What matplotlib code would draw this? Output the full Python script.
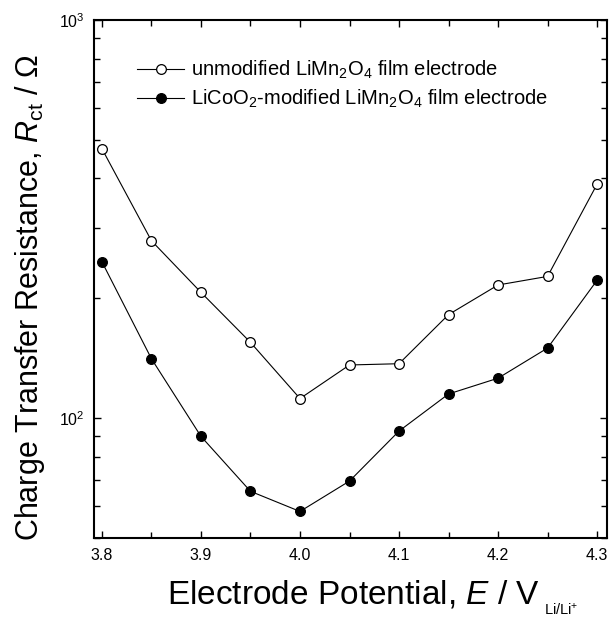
import matplotlib
matplotlib.use("Agg")
import matplotlib.pyplot as plt
from matplotlib.ticker import LogLocator, MultipleLocator, FormatStrFormatter, LogFormatterMathtext, NullFormatter

plt.rcParams['font.family'] = ['Liberation Sans', 'DejaVu Sans']
plt.rcParams['mathtext.fontset'] = 'custom'
plt.rcParams['mathtext.rm'] = 'Liberation Sans'
plt.rcParams['mathtext.it'] = 'Liberation Sans:italic'
plt.rcParams['mathtext.bf'] = 'Liberation Sans:bold'

potential = [3.80, 3.85, 3.90, 3.95, 4.00, 4.05, 4.10, 4.15, 4.20, 4.25, 4.30]
rct_unmodified = [475, 279, 207, 155, 112, 136, 137, 182, 216, 227, 387]
rct_modified = [247, 141, 90, 65.5, 58.3, 69.5, 92.8, 115, 126, 150, 222]
label_unmod = "unmodified LiMn$_2$O$_4$ film electrode"
label_mod = "LiCoO$_2$-modified LiMn$_2$O$_4$ film electrode"

W, H = 611, 621
fig = plt.figure(figsize=(W/100, H/100), dpi=100)
ax = fig.add_axes([94/W, 1-538/H, (607-94)/W, (538-20)/H])

ax.plot(potential, rct_unmodified, '-o', color='black', lw=0.8, ms=7,
        mfc='white', mec='black', mew=0.9, label=label_unmod)
ax.plot(potential, rct_modified, '-o', color='black', lw=0.8, ms=7,
        mfc='black', mec='black', mew=0.9, label=label_mod)

ax.set_yscale('log')
ax.set_ylim(50, 1000)
ax.set_xlim(3.792, 4.31)

ax.xaxis.set_major_locator(MultipleLocator(0.1))
ax.xaxis.set_minor_locator(MultipleLocator(0.05))
ax.xaxis.set_major_formatter(FormatStrFormatter('%.1f'))
ax.yaxis.set_major_locator(LogLocator(base=10))
ax.yaxis.set_minor_locator(LogLocator(base=10, subs=range(2, 10)))
ax.yaxis.set_major_formatter(LogFormatterMathtext())
ax.yaxis.set_minor_formatter(NullFormatter())

ax.tick_params(which='both', direction='in', top=True, right=True, width=1.0, labelsize=11.5)
ax.tick_params(which='major', length=5, pad=7)
ax.tick_params(which='minor', length=4)
for s in ax.spines.values():
    s.set_linewidth(1.5)

# x-axis label drawn as main text plus a separate, lowered subscript
fig.text(353/W, 1-604/H, "Electrode Potential, $E$ / V", fontsize=24,
         ha='center', va='baseline')
fig.text(544/W, 1-615/H, "Li/Li$^{+}$", fontsize=10.5, ha='left', va='baseline')

ax.set_ylabel("Charge Transfer Resistance, $R_{\\mathrm{ct}}$ / Ω", fontsize=22, labelpad=8)
ax.yaxis.label.set_y(0.463)

leg = ax.legend(loc='upper left', bbox_to_anchor=(0.068, 0.94), frameon=False, fontsize=14.5,
                handlelength=2.35, handletextpad=0.35, labelspacing=0.32, borderaxespad=0)

fig.savefig("out.png", dpi=100)
